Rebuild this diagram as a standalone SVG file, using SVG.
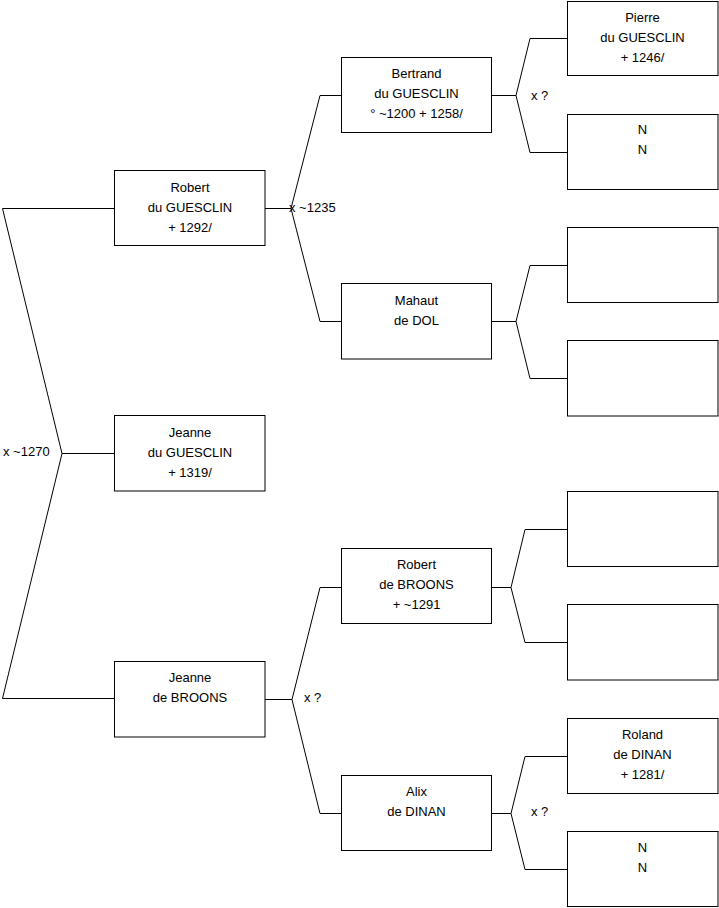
<svg xmlns="http://www.w3.org/2000/svg" width="719" height="908" viewBox="0 0 719 908">
<style>
.box{fill:#fff;stroke:#000;stroke-width:1}
.c{fill:none;stroke:#000;stroke-width:1}
text{font-family:"Liberation Sans",Arial,sans-serif;font-size:13px;fill:#000}
.t{text-anchor:middle}
</style>
<rect width="719" height="908" fill="#fff"/>
<g id="connectors">
<path class="c" d="M114,208.5 H2.5 L62,453.5 L2.5,698.5 H114 M62,453.5 H114"/>
<path class="c" d="M265,208.5 H291 M341,95.5 H320 L291,208.5 L320,321.5 H341"/>
<path class="c" d="M265,699.5 H292 M341,587.5 H320 L292,699.5 L320,813.5 H341"/>
<path class="c" d="M492,95.5 H516 M567,38.5 H530 L516,95.5 L530,152.5 H567"/>
<path class="c" d="M492,321.5 H516 M567,265.5 H530 L516,321.5 L530,378.5 H567"/>
<path class="c" d="M492,587.5 H511 M567,529.5 H525 L511,587.5 L525,642.5 H567"/>
<path class="c" d="M492,813.5 H511 M567,756.5 H525 L511,813.5 L525,869.5 H567"/>
<text x="289" y="211.5">x ~1235</text>
<text x="3" y="456">x ~1270</text>
<text x="304" y="702">x ?</text>
<text x="531" y="99.5">x ?</text>
<text x="531" y="815.5">x ?</text>
</g>
<g id="n-robert-guesclin">
<rect class="box" x="114.5" y="170.5" width="150.5" height="75"/>
<text class="t" x="190" y="191.5">Robert</text>
<text class="t" x="190" y="211.5">du GUESCLIN</text>
<text class="t" x="190" y="231.5">+ 1292/</text>
</g>
<g id="n-jeanne-guesclin">
<rect class="box" x="114.5" y="415.5" width="150.5" height="75.5"/>
<text class="t" x="190" y="437">Jeanne</text>
<text class="t" x="190" y="457">du GUESCLIN</text>
<text class="t" x="190" y="477">+ 1319/</text>
</g>
<g id="n-jeanne-broons">
<rect class="box" x="114.5" y="661.5" width="150.5" height="75.5"/>
<text class="t" x="190" y="682">Jeanne</text>
<text class="t" x="190" y="702">de BROONS</text>
</g>
<g id="n-bertrand">
<rect class="box" x="341.5" y="57.5" width="150" height="75"/>
<text class="t" x="416.5" y="78">Bertrand</text>
<text class="t" x="416.5" y="98">du GUESCLIN</text>
<text class="t" x="416.5" y="118">° ~1200 + 1258/</text>
</g>
<g id="n-mahaut">
<rect class="box" x="341.5" y="283.5" width="150" height="75.5"/>
<text class="t" x="416.5" y="304.5">Mahaut</text>
<text class="t" x="416.5" y="324.5">de DOL</text>
</g>
<g id="n-robert-broons">
<rect class="box" x="341.5" y="548.5" width="150" height="75"/>
<text class="t" x="416.5" y="569">Robert</text>
<text class="t" x="416.5" y="589">de BROONS</text>
<text class="t" x="416.5" y="609">+ ~1291</text>
</g>
<g id="n-alix">
<rect class="box" x="341.5" y="775.5" width="150" height="75"/>
<text class="t" x="416.5" y="796">Alix</text>
<text class="t" x="416.5" y="816">de DINAN</text>
</g>
<g id="n-pierre">
<rect class="box" x="567.5" y="1.5" width="150.5" height="74"/>
<text class="t" x="642.5" y="21.5">Pierre</text>
<text class="t" x="642.5" y="41.5">du GUESCLIN</text>
<text class="t" x="642.5" y="61.5">+ 1246/</text>
</g>
<g id="n-nn1">
<rect class="box" x="567.5" y="114.5" width="150.5" height="75"/>
<text class="t" x="642.5" y="134">N</text>
<text class="t" x="642.5" y="154">N</text>
</g>
<g id="n-empty1">
<rect class="box" x="567.5" y="227.5" width="150.5" height="75"/>
</g>
<g id="n-empty2">
<rect class="box" x="567.5" y="340.5" width="150.5" height="75.5"/>
</g>
<g id="n-empty3">
<rect class="box" x="567.5" y="491.5" width="150.5" height="75"/>
</g>
<g id="n-empty4">
<rect class="box" x="567.5" y="604.5" width="150.5" height="75.5"/>
</g>
<g id="n-roland">
<rect class="box" x="567.5" y="718.5" width="150.5" height="75"/>
<text class="t" x="642.5" y="738.5">Roland</text>
<text class="t" x="642.5" y="758.5">de DINAN</text>
<text class="t" x="642.5" y="778.5">+ 1281/</text>
</g>
<g id="n-nn2">
<rect class="box" x="567.5" y="831.5" width="150.5" height="75"/>
<text class="t" x="642.5" y="852">N</text>
<text class="t" x="642.5" y="872">N</text>
</g>
</svg>
